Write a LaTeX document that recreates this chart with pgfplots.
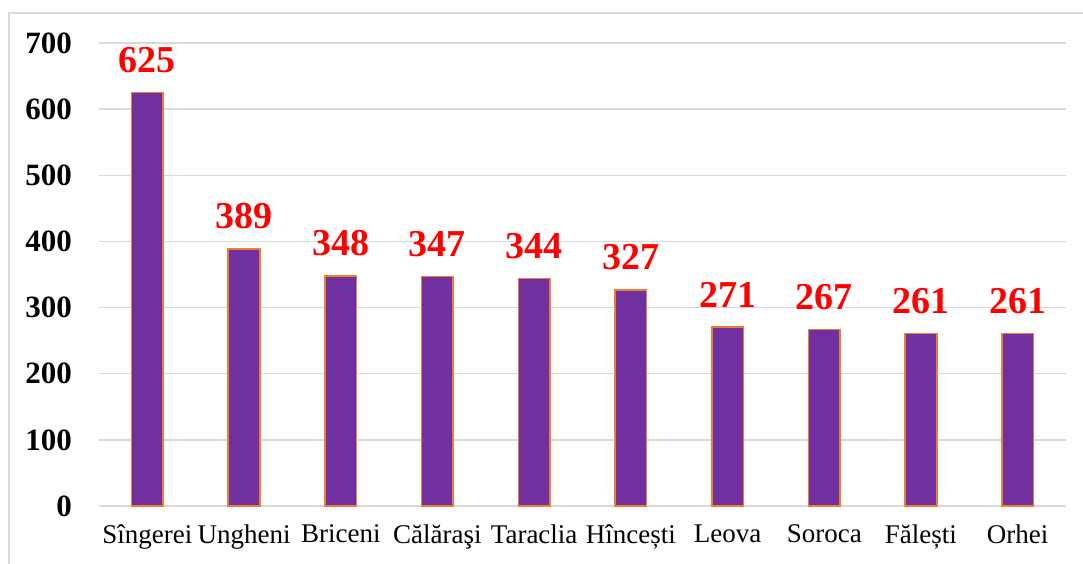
\documentclass[border=0pt]{standalone}
\usepackage{pgfplots}
\pgfplotsset{compat=1.18}
\usepackage{fontspec}
\setmainfont{Liberation Serif}
\definecolor{barpurple}{HTML}{7030A0}
\definecolor{baredge}{HTML}{ED7D31}
\definecolor{gridgray}{HTML}{D9D9D9}
\definecolor{framegray}{HTML}{D9D9D9}
\begin{document}
\begin{tikzpicture}[x=1pt,y=1pt]
\useasboundingbox (0,0) rectangle (541.5,281.5);
\draw[framegray, line width=0.75pt] (4.5,275) rectangle (560,-20);
\begin{axis}[
  at={(49.5pt,28.5pt)}, anchor=south west,
  scale only axis, width=483.5pt, height=231.5pt,
  xmin=-0.5, xmax=9.5, ymin=0, ymax=700,
  ytick={0,100,...,700},
  xtick=data,
  xticklabels={Sîngerei,Ungheni,Briceni,Călăraşi,Taraclia,Hîncești,Leova,Soroca,Fălești,Orhei},
  axis x line*=bottom, axis y line*=left,
  y axis line style={draw=none},
  x axis line style={draw=gridgray, line width=0.75pt},
  ymajorgrids, grid style={draw=gridgray, line width=0.75pt},
  major tick length=0pt,
  /pgf/number format/assume math mode=true,
  yticklabel style={font=\bfseries\fontsize{15.5}{15.5}\selectfont, xshift=-10pt},
  xticklabel style={font=\fontsize{13.5}{13.5}\selectfont, yshift=-6pt},
  ybar, bar width=15.8pt,
  nodes near coords,
  every node near coord/.append style={font=\bfseries\fontsize{19}{19}\selectfont, text=red, yshift=6pt},
  clip=false,
]
\addplot[fill=barpurple, draw=baredge, line width=0.8pt] coordinates {
(0,625) (1,389) (2,348) (3,347) (4,344) (5,327) (6,271) (7,267) (8,261) (9,261)
};
\end{axis}
\end{tikzpicture}
\end{document}
